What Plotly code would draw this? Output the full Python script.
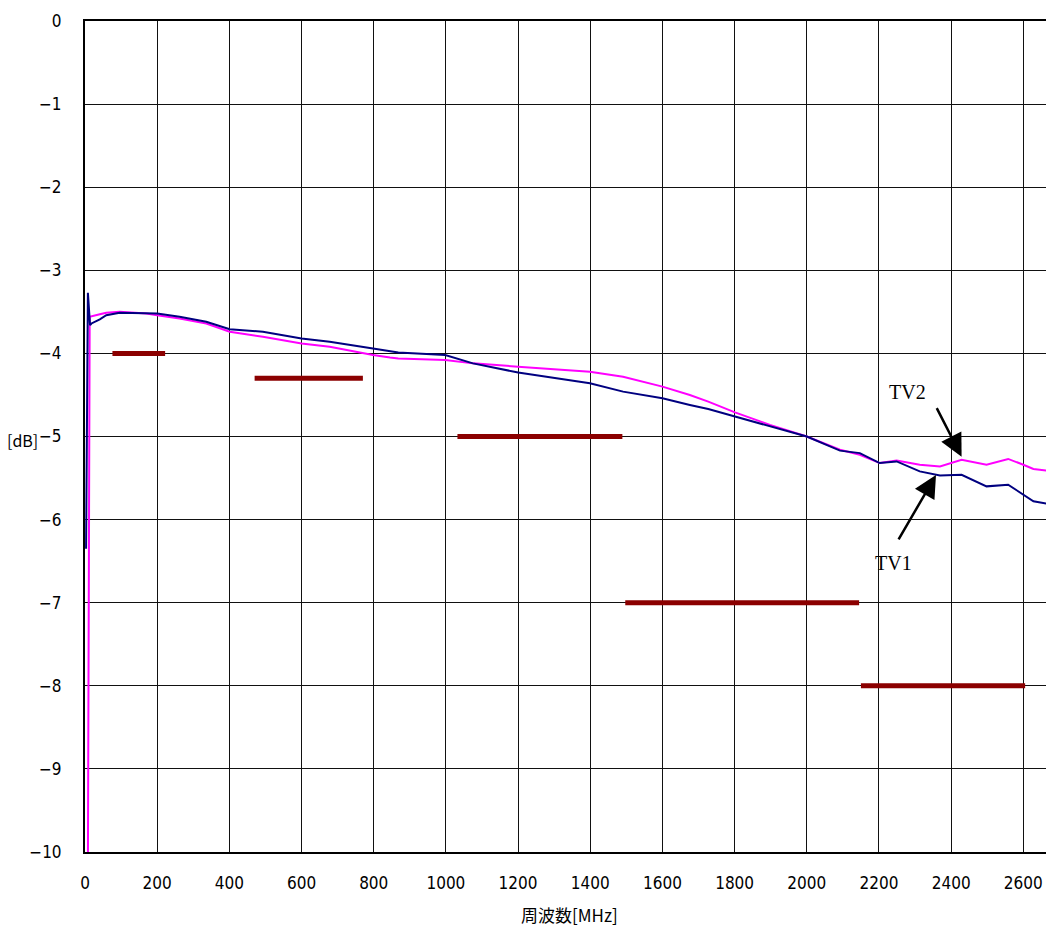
import plotly.graph_objects as go

# ---- data ----
tv1_freq = [3, 8, 14, 18, 41, 59, 96, 170, 200, 262, 336, 401, 493, 600, 678, 798, 845, 868,
            998, 1075, 1200, 1307, 1399, 1491, 1600, 1676, 1727, 1801, 1898, 2000, 2092, 2147,
            2202, 2249, 2313, 2369, 2429, 2498, 2558, 2600, 2628, 2683]
tv1_db = [-6.35, -3.27, -3.66, -3.64, -3.59, -3.54, -3.51, -3.52, -3.52, -3.56, -3.62, -3.71,
          -3.74, -3.82, -3.86, -3.94, -3.97, -3.99, -4.02, -4.12, -4.23, -4.30, -4.36, -4.46,
          -4.54, -4.62, -4.67, -4.76, -4.88, -5.00, -5.17, -5.20, -5.32, -5.30, -5.42, -5.47,
          -5.46, -5.60, -5.58, -5.70, -5.78, -5.82]

tv2_freq = [8, 13, 41, 59, 96, 170, 200, 262, 336, 401, 493, 600, 678, 798, 845, 868, 998,
            1075, 1200, 1307, 1399, 1491, 1600, 1676, 1727, 1801, 1898, 2000, 2092, 2147, 2202,
            2249, 2313, 2369, 2429, 2498, 2558, 2600, 2628, 2683]
tv2_db = [-10.2, -3.56, -3.53, -3.51, -3.50, -3.52, -3.54, -3.58, -3.64, -3.74, -3.80, -3.88,
          -3.92, -4.02, -4.05, -4.06, -4.08, -4.12, -4.16, -4.19, -4.22, -4.28, -4.40, -4.50,
          -4.58, -4.71, -4.86, -5.00, -5.16, -5.22, -5.32, -5.29, -5.34, -5.36, -5.28, -5.34,
          -5.27, -5.34, -5.39, -5.42]

# standard limits (band start, band end, level dB)
spec_start = [76, 470, 1032, 1497, 2150]
spec_end = [222, 770, 1489, 2145, 2605]
spec_level = [-4.0, -4.3, -5.0, -7.0, -8.0]

x_ticks = list(range(0, 2601, 200))
y_ticks = list(range(-10, 1))

fig = go.Figure()

for s, e, lv in zip(spec_start, spec_end, spec_level):
    fig.add_trace(go.Scatter(x=[s, e], y=[lv, lv], mode="lines",
                             line=dict(color="#8B0000", width=5), showlegend=False,
                             hoverinfo="skip"))

fig.add_trace(go.Scatter(x=tv2_freq, y=tv2_db, mode="lines", name="TV2",
                         line=dict(color="#FF00FF", width=2), showlegend=False))
fig.add_trace(go.Scatter(x=tv1_freq, y=tv1_db, mode="lines", name="TV1",
                         line=dict(color="#000080", width=2), showlegend=False))

tick_font = dict(family="DejaVu Sans Condensed, Liberation Sans Narrow, sans-serif",
                 size=17, color="black")

fig.update_layout(
    width=1046, height=921,
    margin=dict(l=77, r=0, t=13, b=77),
    paper_bgcolor="white", plot_bgcolor="white",
    xaxis=dict(range=[0, 2685], tickvals=x_ticks, showgrid=True, gridcolor="#111",
               gridwidth=1, zeroline=False, showline=True, linecolor="black", linewidth=2,
               mirror=True, ticks="", tickfont=tick_font, ticklabelstandoff=15),
    yaxis=dict(range=[-10, 0], tickvals=y_ticks, showgrid=True, gridcolor="#111",
               gridwidth=1, zeroline=False, showline=True, linecolor="black", linewidth=2,
               ticks="", tickfont=tick_font, ticklabelstandoff=18),
)

fig.add_annotation(text="周波数[MHz]", xref="paper", yref="paper", x=0.5, y=-0.0758,
                   xanchor="center", yanchor="middle", showarrow=False,
                   font=dict(family="Noto Sans CJK JP", size=17, color="black"))
fig.add_annotation(text="[dB]", xref="paper", yref="y", x=-0.065, y=-5.04,
                   xanchor="center", yanchor="middle", showarrow=False,
                   font=dict(family="Noto Sans CJK JP", size=16, color="black"))

# labels and arrows
fig.add_annotation(x=2429, y=-5.243, ax=2358, ay=-4.641, xref="x", yref="y",
                   axref="x", ayref="y", text="", showarrow=True, arrowhead=2,
                   arrowsize=1.8, arrowwidth=2.5, arrowcolor="black")
fig.add_annotation(x=2358, y=-5.463, ax=2252, ay=-6.257, xref="x", yref="y",
                   axref="x", ayref="y", text="", showarrow=True, arrowhead=2,
                   arrowsize=1.8, arrowwidth=2.5, arrowcolor="black")
fig.add_annotation(x=2278, y=-4.46, xref="x", yref="y", text="TV2", showarrow=False,
                   font=dict(family="Liberation Serif, serif", size=20, color="black"))
fig.add_annotation(x=2239, y=-6.526, xref="x", yref="y", text="TV1", showarrow=False,
                   font=dict(family="Liberation Serif, serif", size=20, color="black"))

fig.write_html("out.html")
